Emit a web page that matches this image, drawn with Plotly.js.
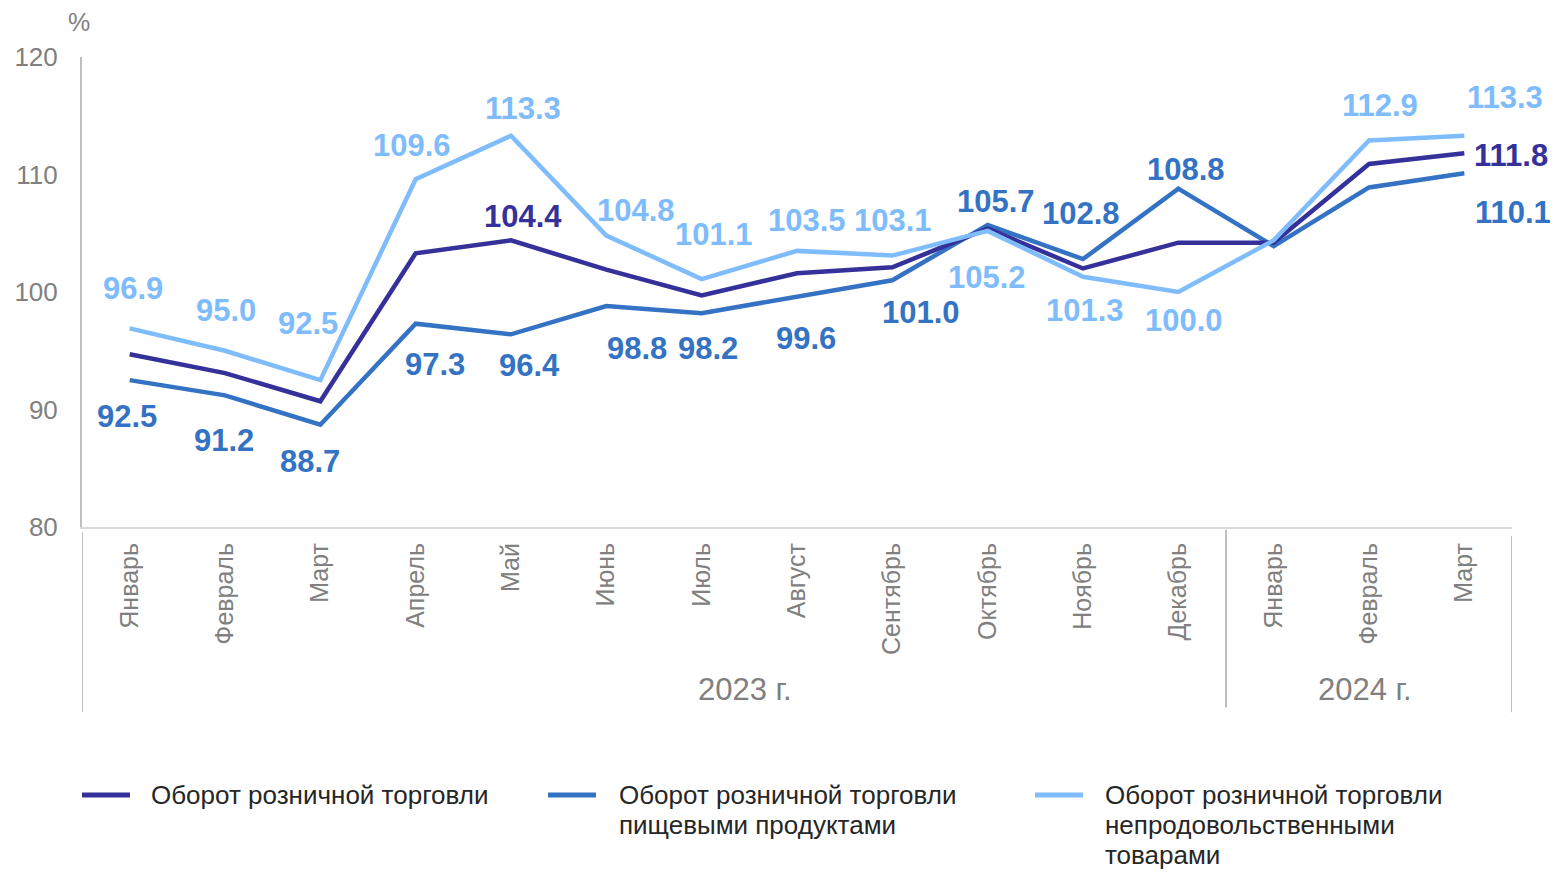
<!DOCTYPE html>
<html>
<head>
<meta charset="utf-8">
<script src="https://cdn.plot.ly/plotly-3.0.1.min.js"></script>
<style>
html,body{margin:0;padding:0;background:#fff;}
#chart{width:1554px;height:872px;}
</style>
</head>
<body>
<div id="chart"></div>
<script>
// ---- data ----
const months = ["Январь","Февраль","Март","Апрель","Май","Июнь","Июль","Август","Сентябрь","Октябрь","Ноябрь","Декабрь","Январь","Февраль","Март"];
const years = ["2023 г.","2024 г."];
const seriesNames = [
  ["Оборот розничной торговли"],
  ["Оборот розничной торговли","пищевыми продуктами"],
  ["Оборот розничной торговли","непродовольственными","товарами"]
];
const retailTotal = [94.7,93.1,90.7,103.3,104.4,101.9,99.7,101.6,102.1,105.4,102.0,104.2,104.2,110.9,111.8];
const retailFood = [92.5,91.2,88.7,97.3,96.4,98.8,98.2,99.6,101.0,105.7,102.8,108.8,103.9,108.9,110.1];
const retailNonFood = [96.9,95.0,92.5,109.6,113.3,104.8,101.1,103.5,103.1,105.2,101.3,100.0,104.4,112.9,113.3];
// which points carry a value label
const labeledTotal = [4,14];
const labeledFood = [0,1,2,3,4,5,6,7,8,9,10,11,14];
const labeledNonFood = [0,1,2,3,4,5,6,7,8,9,10,11,13,14];

// ---- styling ----
const colors = ["#35319a","#3472c4","#7fbcfc"];
const FONT = "'Liberation Sans', Arial, sans-serif";
// label offsets in pixels [dx, dy] (dy positive = down)
const offTotal = {4:[12,-24],14:[47,2]};
const offFood = {0:[-3,36],1:[-1,45],2:[-10,37],3:[19,41],4:[18,31],5:[31,42],6:[6,35],7:[9,42],8:[29,32],9:[8,-24],10:[-2,-46],11:[8,-19],14:[49,39]};
const offNonFood = {0:[3,-40],1:[1,-40],2:[-12,-57],3:[-4,-34],4:[12,-27],5:[30,-25],6:[12,-45],7:[10,-30],8:[1,-35],9:[-1,47],10:[2,34],11:[6,28],13:[11,-35],14:[41,-38]};

const xIdx = months.map((_, i) => i);

const traces = [retailTotal, retailFood, retailNonFood].map((vals, k) => ({
  type: "scatter",
  mode: "lines",
  x: xIdx,
  y: vals,
  name: seriesNames[k].join(" "),
  line: {color: colors[k], width: 4.5},
  hoverinfo: "x+y",
  showlegend: false
}));
const data = [traces[1], traces[0], traces[2]];

const annotations = [];
function addLabels(vals, idxs, offs, color) {
  idxs.forEach(i => {
    const o = offs[i] || [0, -30];
    annotations.push({
      x: i, y: vals[i], xref: "x", yref: "y",
      text: vals[i].toFixed(1),
      showarrow: false,
      xshift: o[0], yshift: -o[1],
      font: {family: FONT, size: 31, color: color, weight: "bold"}
    });
  });
}
addLabels(retailTotal, labeledTotal, offTotal, colors[0]);
addLabels(retailFood, labeledFood, offFood, colors[1]);
addLabels(retailNonFood, labeledNonFood, offNonFood, colors[2]);

// year group labels
annotations.push({x: 6.45, y: -0.345, xref: "x", yref: "paper", text: years[0], showarrow: false,
  font: {family: FONT, size: 31, color: "#808080"}, yanchor: "middle"});
annotations.push({x: 12.96, y: -0.345, xref: "x", yref: "paper", text: years[1], showarrow: false,
  font: {family: FONT, size: 31, color: "#808080"}, yanchor: "middle"});
// unit
annotations.push({x: 0, y: 1, xref: "paper", yref: "paper", text: "%", showarrow: false,
  xanchor: "center", yanchor: "middle", xshift: -3, yshift: 35,
  font: {family: FONT, size: 25, color: "#808080"}});

const shapes = [
  {type: "line", xref: "x", yref: "paper", x0: -0.5, x1: -0.5, y0: -0.01, y1: -0.394, line: {color: "#bfbfbf", width: 2}},
  {type: "line", xref: "x", yref: "paper", x0: 11.5, x1: 11.5, y0: -0.006, y1: -0.384, line: {color: "#bfbfbf", width: 2}},
  {type: "line", xref: "x", yref: "paper", x0: 14.5, x1: 14.5, y0: -0.019, y1: -0.394, line: {color: "#bfbfbf", width: 2}}
];

// manual legend (paper coordinates; plot area 1430 x 470 px, top-left at 82,57)
const legendLineX = [0, 466, 953];     // px from plot left
const legendTextX = [67, 535, 1021];
const legendY0 = 795, legendLineGap = 30;
[0, 1, 2].forEach(k => {
  const yLine = (527 - legendY0) / 470;
  shapes.push({type: "line", xref: "paper", yref: "paper",
    x0: legendLineX[k] / 1430, x1: (legendLineX[k] + 48) / 1430, y0: yLine, y1: yLine,
    line: {color: colors[k], width: 5}});
  seriesNames[k].forEach((ln, li) => {
    annotations.push({x: legendTextX[k] / 1430, y: (527 - (legendY0 + li * legendLineGap)) / 470,
      xref: "paper", yref: "paper", xanchor: "left", yanchor: "middle", align: "left",
      showarrow: false, text: ln, font: {family: FONT, size: 26, color: "#262626"}});
  });
});

const layout = {
  width: 1554, height: 872,
  margin: {l: 82, r: 42, t: 57, b: 345, autoexpand: false},
  paper_bgcolor: "#ffffff", plot_bgcolor: "#ffffff",
  font: {family: FONT, color: "#808080"},
  showlegend: false,
  xaxis: {
    range: [-0.5, 14.5], tickmode: "array", tickvals: xIdx, ticktext: months,
    tickangle: -90, ticks: "", showgrid: false, zeroline: false,
    showline: true, linecolor: "#d9d9d9", linewidth: 2,
    ticklabelstandoff: 4,
    tickfont: {family: FONT, size: 25, color: "#808080"}
  },
  yaxis: {
    range: [80, 120], tickvals: [80, 90, 100, 110, 120], ticks: "",
    showgrid: false, zeroline: false, showline: true, linecolor: "#bfbfbf", linewidth: 2,
    ticklabelstandoff: 17,
    tickfont: {family: FONT, size: 26, color: "#808080"}
  },
  annotations: annotations,
  shapes: shapes
};

Plotly.newPlot("chart", data, layout, {displayModeBar: false, staticPlot: true});
</script>
</body>
</html>
